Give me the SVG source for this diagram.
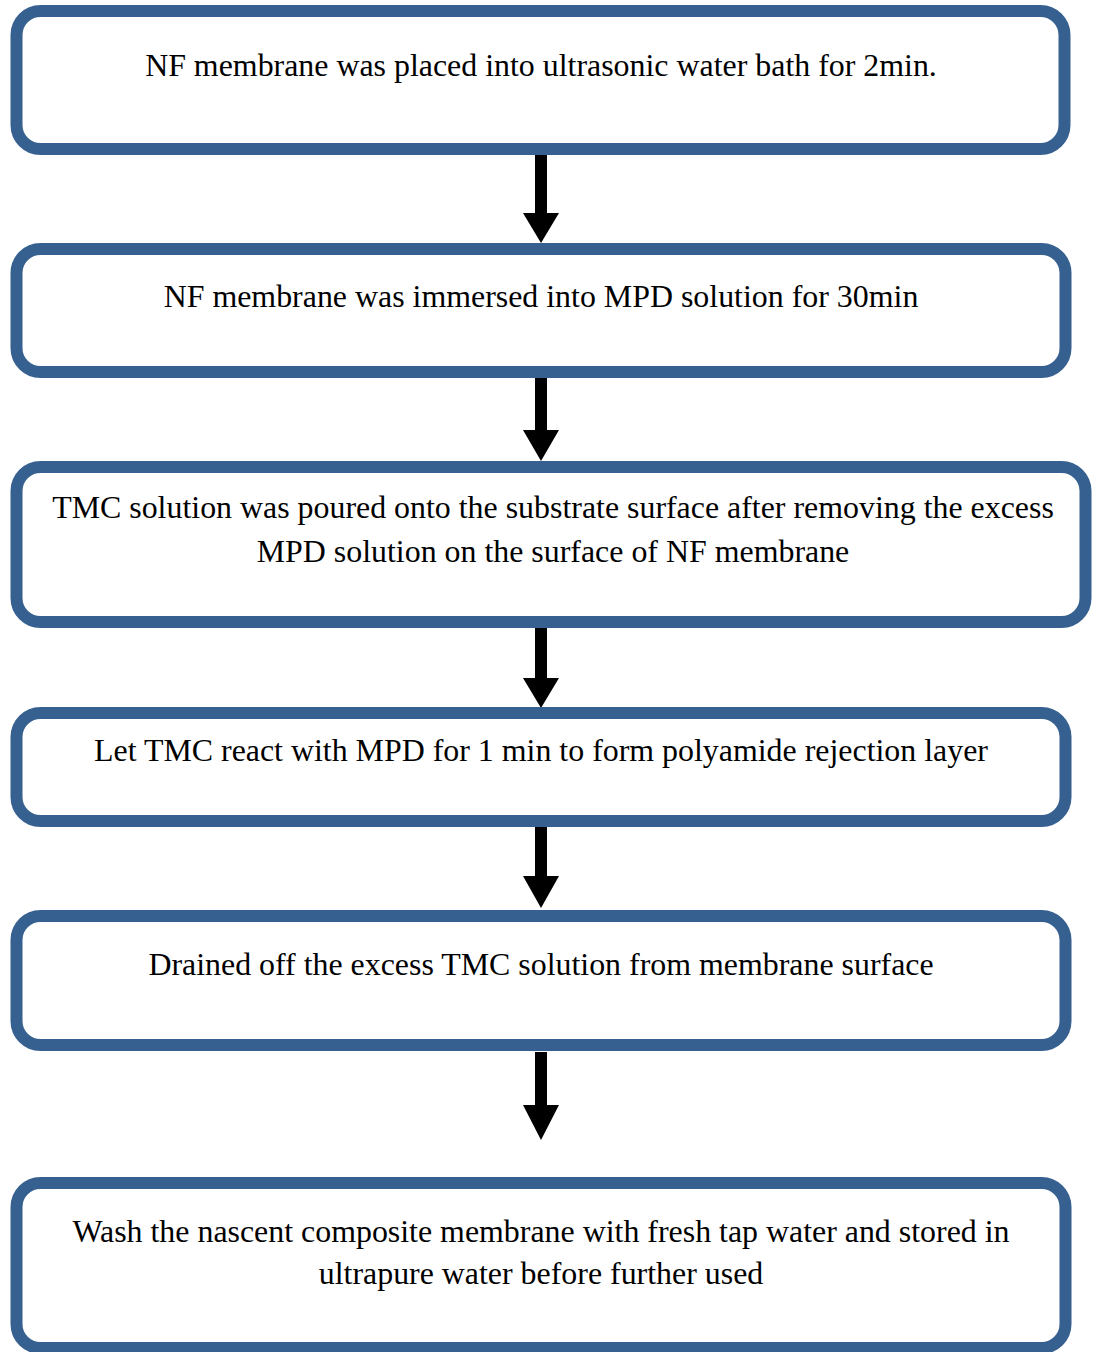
<svg xmlns="http://www.w3.org/2000/svg" width="1097" height="1352" viewBox="0 0 1097 1352">
<style>
.box{fill:#ffffff;stroke:#36608f;stroke-width:12}
.t{font-family:"Liberation Serif","Times New Roman",serif;font-size:31.9px;fill:#000;text-anchor:middle}
.shaft{fill:#000}
</style>
<rect width="1097" height="1352" fill="#ffffff"/>
<g id="connectors">
<path class="shaft" d="M535,155 H547 V213 H559 L541,243 L523,213 H535 Z"/>
<path class="shaft" d="M535,378 H547 V430 H559 L541,461 L523,430 H535 Z"/>
<path class="shaft" d="M535,628 H547 V678 H559 L541,708 L523,678 H535 Z"/>
<path class="shaft" d="M535,827 H547 V876 H559 L541,908 L523,876 H535 Z"/>
<path class="shaft" d="M535,1052 H547 V1105 H559 L541,1140 L523,1105 H535 Z"/>
</g>
<g id="n1">
<rect class="box" x="16.5" y="11" width="1048" height="138" rx="24"/>
<text class="t" x="541" y="76">NF membrane was placed into ultrasonic water bath for 2min.</text>
</g>
<g id="n2">
<rect class="box" x="16.5" y="249" width="1049" height="123" rx="24"/>
<text class="t" x="541" y="307">NF membrane was immersed into MPD solution for 30min</text>
</g>
<g id="n3">
<rect class="box" x="16.5" y="467" width="1069" height="155" rx="24"/>
<text class="t" x="553" y="518">TMC solution was poured onto the substrate surface after removing the excess</text>
<text class="t" x="553" y="562">MPD solution on the surface of NF membrane</text>
</g>
<g id="n4">
<rect class="box" x="16.5" y="713" width="1049" height="108" rx="24"/>
<text class="t" x="541" y="761">Let TMC react with MPD for 1 min to form polyamide rejection layer</text>
</g>
<g id="n5">
<rect class="box" x="16.5" y="916" width="1049" height="129" rx="24"/>
<text class="t" x="541" y="975">Drained off the excess TMC solution from membrane surface</text>
</g>
<g id="n6">
<rect class="box" x="16.5" y="1183" width="1049" height="165" rx="24"/>
<text class="t" x="541" y="1242">Wash the nascent composite membrane with fresh tap water and stored in</text>
<text class="t" x="541" y="1284">ultrapure water before further used</text>
</g>
</svg>
